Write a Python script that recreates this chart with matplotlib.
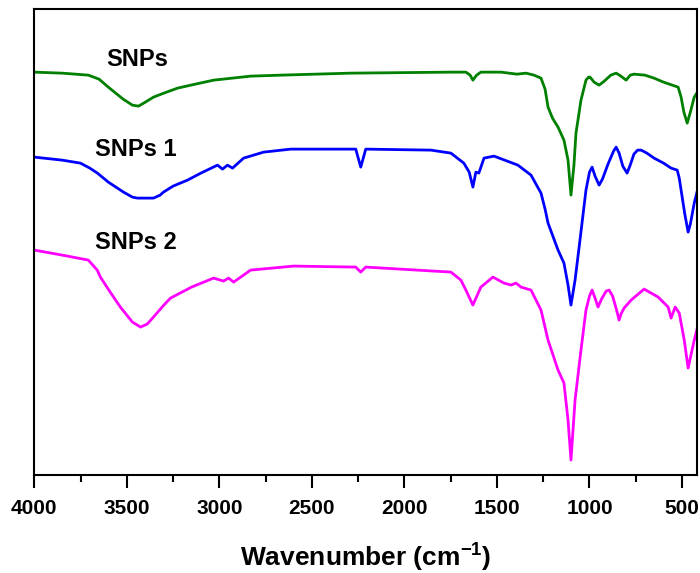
import matplotlib
matplotlib.use("Agg")
import matplotlib.pyplot as plt
from matplotlib.ticker import MultipleLocator

plt.rcParams['font.family'] = ['Liberation Sans', 'DejaVu Sans']
plt.rcParams['font.weight'] = 'bold'
plt.rcParams['mathtext.fontset'] = 'custom'
plt.rcParams['mathtext.rm'] = 'Liberation Sans:bold'
plt.rcParams['mathtext.bf'] = 'Liberation Sans:bold'

# SNPs (green)
wn_snp = [4000, 3850, 3708, 3650, 3600, 3520, 3470, 3437, 3400, 3356, 3300, 3226,
          3130, 3031, 2831, 2669, 2290, 1749, 1668, 1645, 1630, 1610, 1587, 1478,
          1392, 1343, 1300, 1262, 1240, 1224, 1200, 1170, 1138, 1116, 1100, 1084,
          1073, 1046, 1019, 1005, 997, 975, 948, 920, 885, 856, 830, 802, 780,
          759, 700, 651, 600, 521, 505, 490, 472, 455, 434, 407]
t_snp = [402, 401, 399, 395, 387, 375, 369, 368, 372, 377, 381, 386,
         390, 394, 398, 399, 401, 402, 402, 399, 394, 399, 402, 402,
         400, 401, 399, 396, 385, 367, 356, 347, 334, 314, 279, 309,
         341, 374, 394, 397, 397, 392, 389, 393, 399, 401, 398, 394, 399,
         400, 399, 396, 392, 387, 377, 362, 351, 362, 377, 385]

# SNPs 1 (blue)
wn_snp1 = [4000, 3850, 3751, 3700, 3659, 3600, 3518, 3470, 3443, 3356, 3320, 3302,
           3250, 3172, 3100, 3010, 2983, 2956, 2929, 2869, 2761, 2615, 2263, 2236,
           2209, 1857, 1749, 1679, 1650, 1630, 1614, 1598, 1570, 1516, 1387, 1316,
           1262, 1240, 1224, 1170, 1138, 1116, 1100, 1078, 1056, 1019, 1000, 986,
           970, 948, 930, 900, 870, 856, 840, 820, 797, 780, 760, 740, 721, 690,
           651, 600, 559, 526, 515, 505, 485, 467, 455, 434, 407]
t_snp1 = [317, 314, 311, 306, 301, 292, 282, 277, 276, 276, 279, 282,
          288, 294, 301, 309, 305, 309, 306, 316, 322, 325, 325, 307,
          325, 324, 321, 311, 302, 287, 302, 301, 316, 318, 309, 299,
          281, 265, 251, 224, 211, 189, 169, 194, 227, 284, 302, 307,
          298, 289, 295, 310, 323, 327, 321, 308, 301, 309, 320, 324, 324, 321,
          316, 311, 306, 304, 296, 284, 260, 242, 250, 271, 291]

# SNPs 2 (magenta)
wn_snp2 = [4000, 3850, 3708, 3660, 3643, 3590, 3535, 3470, 3426, 3390, 3356, 3300,
           3264, 3150, 3031, 2977, 2950, 2923, 2831, 2599, 2263, 2236, 2209, 1749,
           1695, 1668, 1630, 1587, 1522, 1462, 1424, 1397, 1370, 1316, 1262, 1224,
           1170, 1138, 1116, 1100, 1078, 1046, 1019, 1000, 986, 970, 954, 935, 910,
           894, 875, 855, 840, 830, 813, 775, 705, 629, 575, 559, 537, 515, 488,
           467, 434, 402]
t_snp2 = [224, 219, 214, 204, 197, 182, 167, 152, 147, 150, 157, 169,
          176, 187, 196, 193, 196, 192, 204, 208, 207, 202, 207, 202,
          194, 184, 169, 187, 197, 191, 189, 191, 187, 184, 164, 134,
          104, 91, 54, 14, 74, 124, 164, 178, 184, 176, 167, 175, 183,
          184, 178, 165, 154, 160, 166, 174, 185, 177, 167, 156, 167, 161, 134,
          106, 134, 157]

fig, ax = plt.subplots(figsize=(7, 5.73), dpi=100)
fig.subplots_adjust(left=0.049, right=0.996, top=0.984, bottom=0.171)

ax.plot(wn_snp, t_snp, color='#008000', lw=2)
ax.plot(wn_snp1, t_snp1, color='#0000ff', lw=2)
ax.plot(wn_snp2, t_snp2, color='#ff00ff', lw=2)

ax.text(3443, 415, 'SNPs', fontsize=17, fontweight='bold', ha='center', va='center')
ax.text(3453, 325, 'SNPs 1', fontsize=17, fontweight='bold', ha='center', va='center')
ax.text(3450, 232, 'SNPs 2', fontsize=17, fontweight='bold', ha='center', va='center')

ax.set_xlim(4000, 418)
ax.set_ylim(-1, 465)
ax.xaxis.set_major_locator(MultipleLocator(500))
ax.xaxis.set_minor_locator(MultipleLocator(250))
ax.set_yticks([])
ax.tick_params(axis='x', which='major', direction='out', length=9, width=1.5,
               labelsize=15, pad=8)
ax.tick_params(axis='x', which='minor', direction='out', length=5, width=1.5)
for lab in ax.get_xticklabels():
    lab.set_fontweight('bold')
for sp in ax.spines.values():
    sp.set_linewidth(1.5)

ax.set_xlabel(r'Wavenumber (cm$^{\mathbf{-1}}$)', fontsize=19, fontweight='bold', labelpad=16)

fig.savefig('out.png', dpi=100)
